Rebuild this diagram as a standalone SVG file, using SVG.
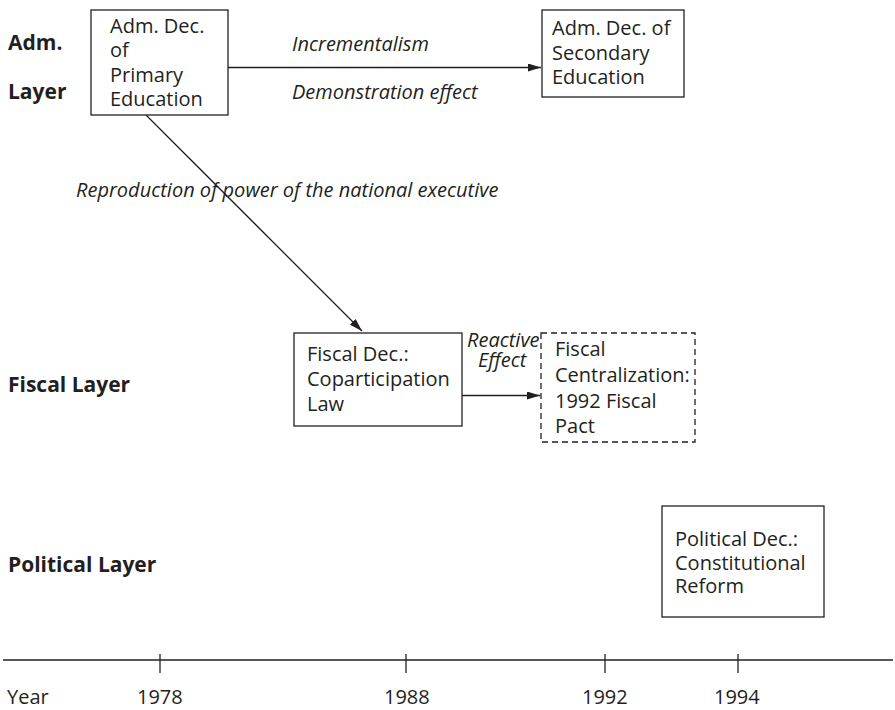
<svg xmlns="http://www.w3.org/2000/svg" width="895" height="710" viewBox="0 0 895 710">
  <style>
    text { font-family: "Open Sans", "Noto Sans", sans-serif; fill: #231f20; font-size: 20px; }
    .layer { font-weight: bold; font-size: 21px; }
    .lbl { font-style: italic; }
    .box { fill: #ffffff; stroke: #231f20; stroke-width: 1.3; }
    .dash { fill: #ffffff; stroke: #231f20; stroke-width: 1.3; stroke-dasharray: 6 4; }
    .edge { fill: none; stroke: #231f20; stroke-width: 1.3; }
  </style>
  <defs>
    <marker id="arrow" viewBox="0 0 13 8" refX="13" refY="4" markerWidth="13" markerHeight="8" markerUnits="userSpaceOnUse" orient="auto">
      <path d="M0,0 L13,4 L0,8 z" fill="#231f20"/>
    </marker>
  </defs>

  <!-- layer labels -->
  <g id="layer-labels">
    <text class="layer" x="8" y="50">Adm.</text>
    <text class="layer" x="8" y="99">Layer</text>
    <text class="layer" x="8" y="392">Fiscal Layer</text>
    <text class="layer" x="8" y="572">Political Layer</text>
  </g>

  <!-- connectors -->
  <g id="connectors">
    <line class="edge" x1="228" y1="67.5" x2="541" y2="67.5" marker-end="url(#arrow)"/>
    <line class="edge" x1="146" y1="115" x2="362" y2="331" marker-end="url(#arrow)"/>
    <line class="edge" x1="461" y1="395.5" x2="540" y2="395.5" marker-end="url(#arrow)"/>
    <text class="lbl" x="292" y="51">Incrementalism</text>
    <text class="lbl" x="292" y="99">Demonstration effect</text>
    <text class="lbl" x="76" y="197">Reproduction of power of the national executive</text>
    <text class="lbl" x="467" y="347">Reactive</text>
    <text class="lbl" x="478" y="367">Effect</text>
  </g>

  <g id="adm-primary">
    <rect class="box" x="91" y="10" width="137" height="105"/>
    <text x="110" y="33">Adm. Dec.</text>
    <text x="110" y="57">of</text>
    <text x="110" y="82">Primary</text>
    <text x="110" y="106">Education</text>
  </g>

  <g id="adm-secondary">
    <rect class="box" x="542" y="10" width="142" height="87"/>
    <text x="552" y="35">Adm. Dec. of</text>
    <text x="552" y="60">Secondary</text>
    <text x="552" y="84">Education</text>
  </g>

  <g id="fiscal-dec">
    <rect class="box" x="294" y="333" width="168" height="93"/>
    <text x="307" y="361">Fiscal Dec.:</text>
    <text x="307" y="386">Coparticipation</text>
    <text x="307" y="411">Law</text>
  </g>

  <g id="fiscal-centralization">
    <rect class="dash" x="541" y="333" width="154" height="109"/>
    <text x="555" y="356">Fiscal</text>
    <text x="555" y="382">Centralization:</text>
    <text x="555" y="408">1992 Fiscal</text>
    <text x="555" y="433">Pact</text>
  </g>

  <g id="political-dec">
    <rect class="box" x="662" y="506" width="162" height="111"/>
    <text x="675" y="546">Political Dec.:</text>
    <text x="675" y="570">Constitutional</text>
    <text x="675" y="593">Reform</text>
  </g>

  <!-- time axis -->
  <g id="axis">
    <line class="edge" x1="3" y1="660" x2="893" y2="660"/>
    <line class="edge" x1="160" y1="654" x2="160" y2="673"/>
    <line class="edge" x1="406" y1="654" x2="406" y2="673"/>
    <line class="edge" x1="605" y1="654" x2="605" y2="673"/>
    <line class="edge" x1="738" y1="654" x2="738" y2="673"/>
    <text x="7" y="704">Year</text>
    <text x="137" y="704">1978</text>
    <text x="384" y="704">1988</text>
    <text x="582" y="704">1992</text>
    <text x="714" y="704">1994</text>
  </g>
</svg>
